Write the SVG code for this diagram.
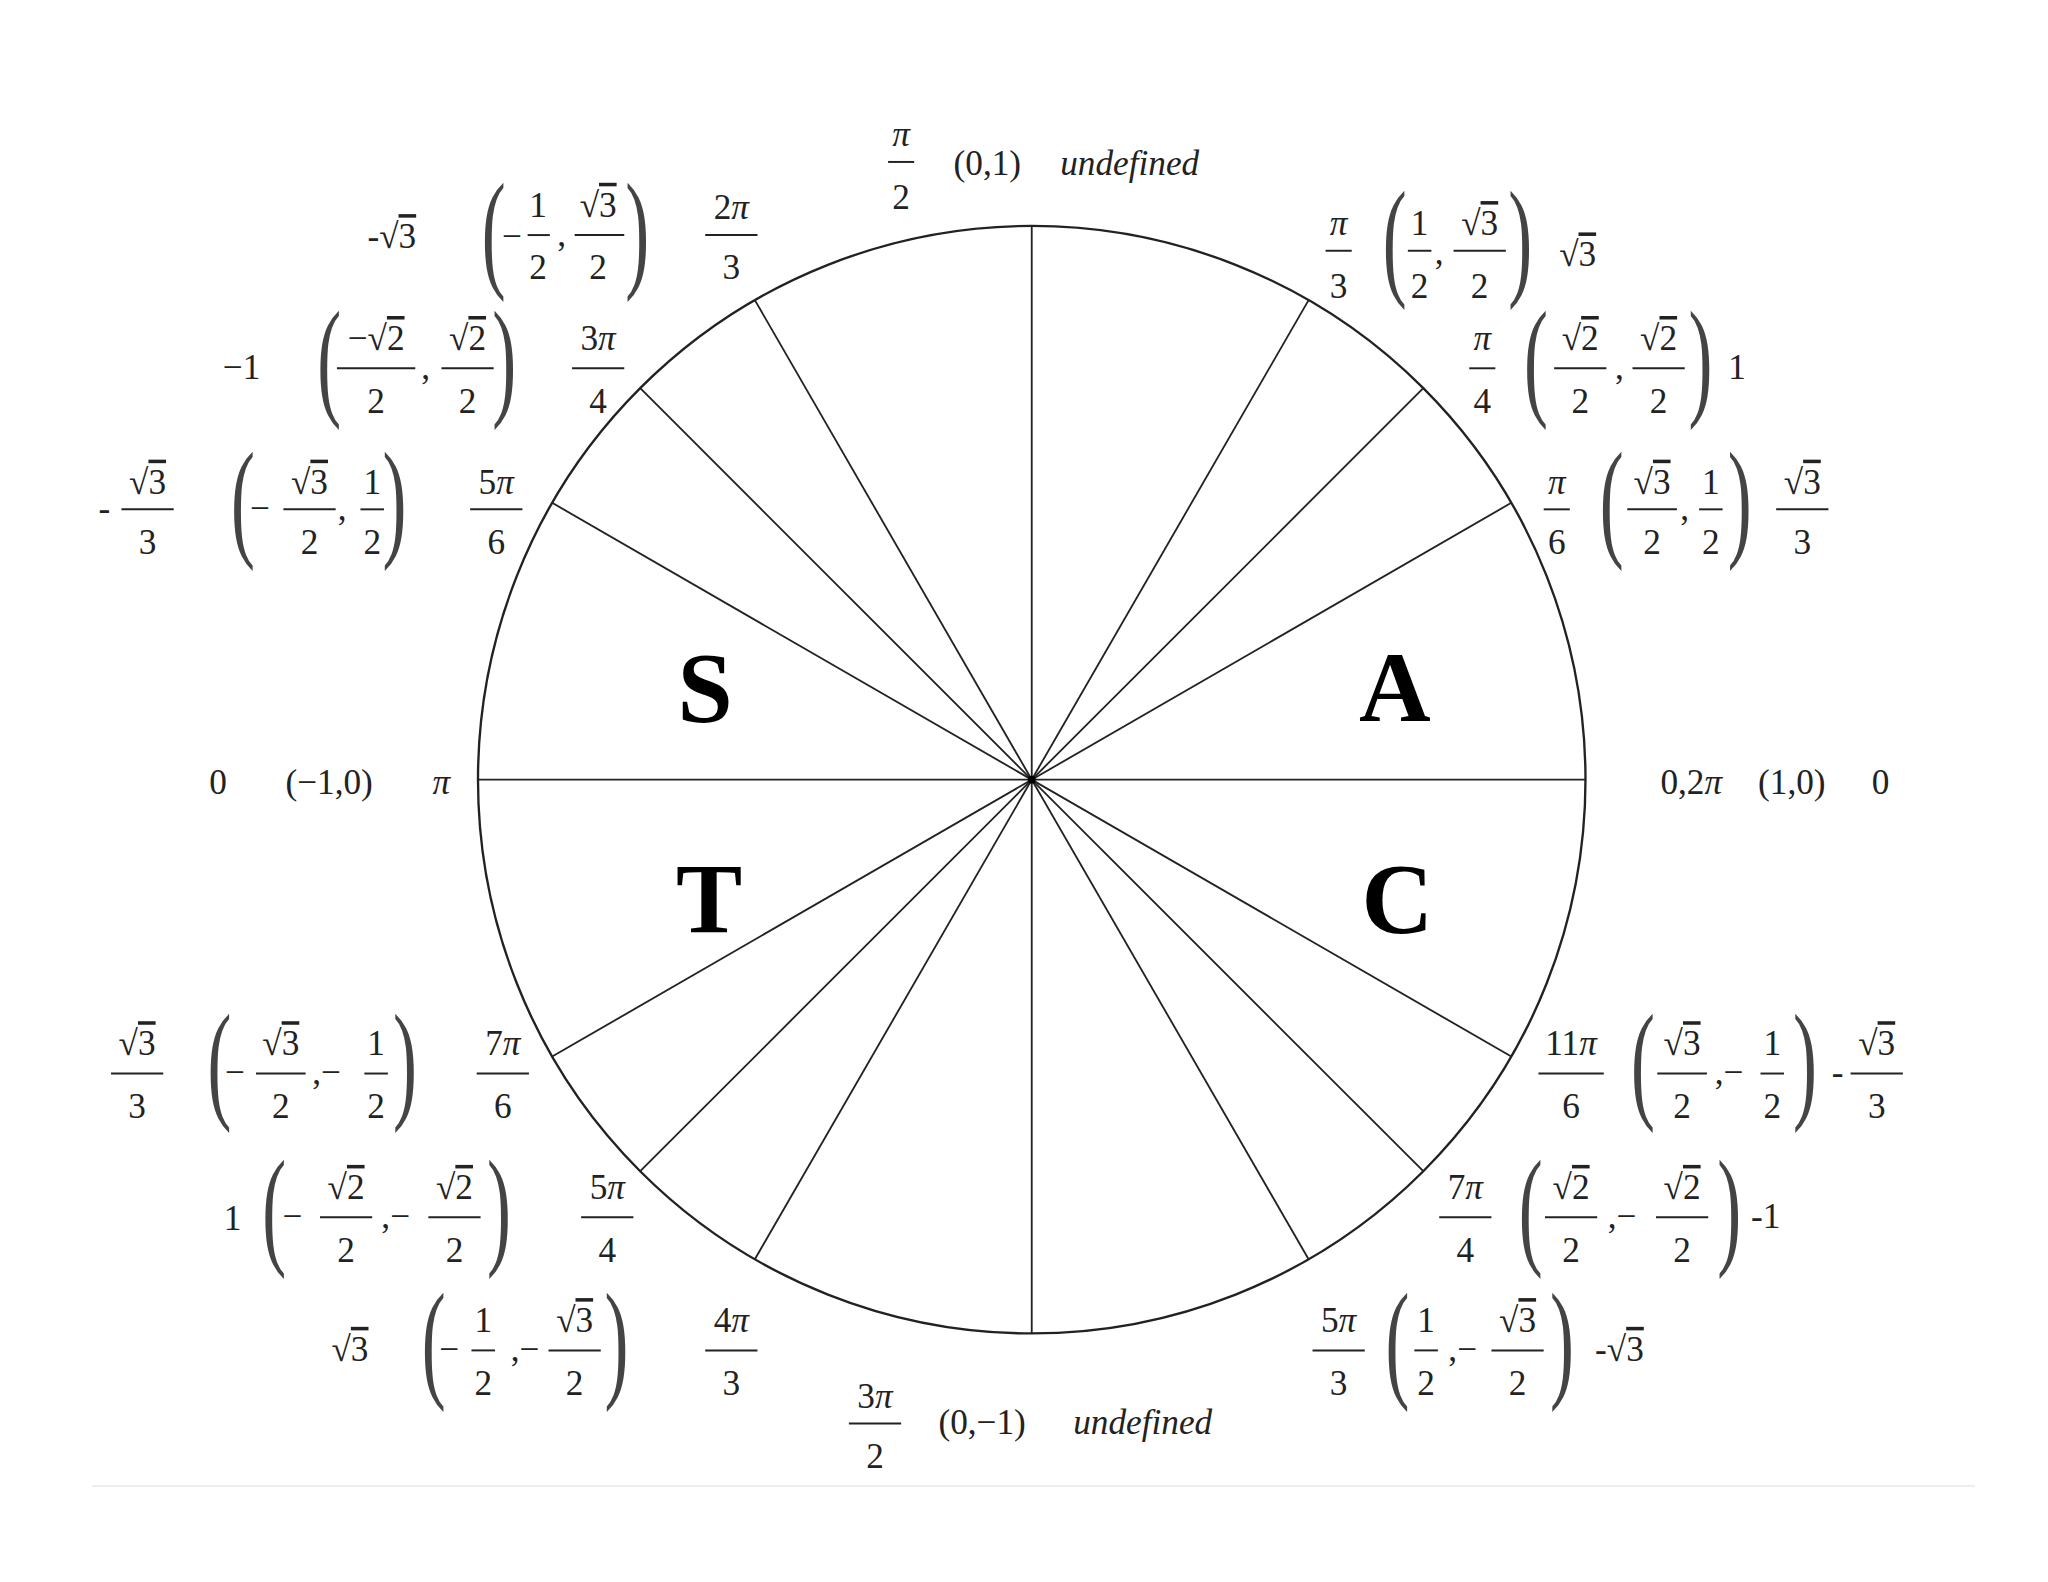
<svg xmlns="http://www.w3.org/2000/svg" width="2048" height="1582" viewBox="0 0 2048 1582">
<style>
text{font-family:"Liberation Serif",serif;font-size:27px;fill:#222;text-anchor:middle}
.p{font-size:100px;font-weight:normal;fill:#444}
.i{font-style:italic}
.ol{text-decoration:overline}
.b{font-size:76px;font-weight:bold;fill:#000}
line{stroke:#222;stroke-width:1.5}
.g line{stroke-width:1.4}
</style>
<rect width="2048" height="1582" fill="#fff"/>
<line x1="92" y1="1486" x2="1975" y2="1486" style="stroke:#eee;stroke-width:2"/>
<g transform="scale(1.306)">
<g id="circle"><circle cx="790" cy="597" r="424" fill="none" stroke="#222" stroke-width="1.8"/></g>
<g id="connectors" class="g">
<line x1="366" y1="597" x2="1214" y2="597"/>
<line x1="790" y1="173" x2="790" y2="1021"/>
<line x1="1157.2" y1="385" x2="422.8" y2="809"/>
<line x1="1089.8" y1="297.2" x2="490.2" y2="896.8"/>
<line x1="1002" y1="229.8" x2="578" y2="964.2"/>
<line x1="578" y1="229.8" x2="1002" y2="964.2"/>
<line x1="490.2" y1="297.2" x2="1089.8" y2="896.8"/>
<line x1="422.8" y1="385" x2="1157.2" y2="809"/>
<circle cx="790" cy="597" r="3" fill="#000"/>
</g>
<g id="quadrants">
<text class="b" x="540" y="552">S</text>
<text class="b" x="1068" y="552">A</text>
<text class="b" x="543" y="714">T</text>
<text class="b" x="1070" y="714">C</text>
</g>

<g id="n90">
<text class="i" x="690" y="112">π</text><line x1="680" y1="124" x2="700" y2="124"/><text x="690" y="160">2</text>
<text x="756" y="134">(0,1)</text>
<text class="i" x="865" y="134">undefined</text>
</g>

<g id="n120">
<text x="300" y="190">-√<tspan class="ol">3</tspan></text>
<text class="p" transform="translate(378,210) scale(0.55,1)">(</text>
<text x="392" y="190">−</text>
<text x="412" y="166">1</text><line x1="404" y1="180" x2="421" y2="180"/><text x="412" y="214">2</text>
<text x="430" y="188">,</text>
<text x="458" y="166">√<tspan class="ol">3</tspan></text><line x1="440" y1="180" x2="478" y2="180"/><text x="458" y="214">2</text>
<text class="p" transform="translate(488,210) scale(0.55,1)">)</text>
<text x="560" y="168">2<tspan class="i">π</tspan></text><line x1="540" y1="180" x2="580" y2="180"/><text x="560" y="214">3</text>
</g>

<g id="n135">
<text x="185" y="290">−1</text>
<text class="p" transform="translate(252,308) scale(0.55,1)">(</text>
<text x="288" y="268">−√<tspan class="ol">2</tspan></text><line x1="258" y1="282" x2="318" y2="282"/><text x="288" y="316">2</text>
<text x="326" y="290">,</text>
<text x="358" y="268">√<tspan class="ol">2</tspan></text><line x1="338" y1="282" x2="378" y2="282"/><text x="358" y="316">2</text>
<text class="p" transform="translate(386,308) scale(0.55,1)">)</text>
<text x="458" y="268">3<tspan class="i">π</tspan></text><line x1="438" y1="282" x2="478" y2="282"/><text x="458" y="316">4</text>
</g>

<g id="n150">
<text x="80" y="398">-</text>
<text x="113" y="378">√<tspan class="ol">3</tspan></text><line x1="93" y1="390" x2="133" y2="390"/><text x="113" y="424">3</text>
<text class="p" transform="translate(186,416) scale(0.55,1)">(</text>
<text x="199" y="398">−</text>
<text x="237" y="378">√<tspan class="ol">3</tspan></text><line x1="217" y1="390" x2="257" y2="390"/><text x="237" y="424">2</text>
<text x="262" y="398">,</text>
<text x="285" y="378">1</text><line x1="276" y1="390" x2="294" y2="390"/><text x="285" y="424">2</text>
<text class="p" transform="translate(302,416) scale(0.55,1)">)</text>
<text x="380" y="378">5<tspan class="i">π</tspan></text><line x1="360" y1="390" x2="400" y2="390"/><text x="380" y="424">6</text>
</g>

<g id="n180">
<text x="167" y="608">0</text>
<text x="252" y="608">(−1,0)</text>
<text class="i" x="338" y="608">π</text>
</g>

<g id="n210">
<text x="105" y="808">√<tspan class="ol">3</tspan></text><line x1="85" y1="822" x2="125" y2="822"/><text x="105" y="856">3</text>
<text class="p" transform="translate(168,846) scale(0.55,1)">(</text>
<text x="180" y="830">−</text>
<text x="215" y="808">√<tspan class="ol">3</tspan></text><line x1="196" y1="822" x2="234" y2="822"/><text x="215" y="856">2</text>
<text x="250" y="830">,−</text>
<text x="288" y="808">1</text><line x1="279" y1="822" x2="297" y2="822"/><text x="288" y="856">2</text>
<text class="p" transform="translate(310,846) scale(0.55,1)">)</text>
<text x="385" y="808">7<tspan class="i">π</tspan></text><line x1="365" y1="822" x2="405" y2="822"/><text x="385" y="856">6</text>
</g>

<g id="n225">
<text x="178" y="942">1</text>
<text class="p" transform="translate(210,958) scale(0.55,1)">(</text>
<text x="224" y="940">−</text>
<text x="265" y="918">√<tspan class="ol">2</tspan></text><line x1="245" y1="932" x2="285" y2="932"/><text x="265" y="966">2</text>
<text x="303" y="940">,−</text>
<text x="348" y="918">√<tspan class="ol">2</tspan></text><line x1="328" y1="932" x2="368" y2="932"/><text x="348" y="966">2</text>
<text class="p" transform="translate(382,958) scale(0.55,1)">)</text>
<text x="465" y="918">5<tspan class="i">π</tspan></text><line x1="445" y1="932" x2="485" y2="932"/><text x="465" y="966">4</text>
</g>

<g id="n240">
<text x="268" y="1042">√<tspan class="ol">3</tspan></text>
<text class="p" transform="translate(332,1060) scale(0.55,1)">(</text>
<text x="344" y="1042">−</text>
<text x="370" y="1020">1</text><line x1="361" y1="1034" x2="379" y2="1034"/><text x="370" y="1068">2</text>
<text x="402" y="1042">,−</text>
<text x="440" y="1020">√<tspan class="ol">3</tspan></text><line x1="420" y1="1034" x2="460" y2="1034"/><text x="440" y="1068">2</text>
<text class="p" transform="translate(472,1060) scale(0.55,1)">)</text>
<text x="560" y="1020">4<tspan class="i">π</tspan></text><line x1="540" y1="1034" x2="580" y2="1034"/><text x="560" y="1068">3</text>
</g>

<g id="n270">
<text x="670" y="1078">3<tspan class="i">π</tspan></text><line x1="650" y1="1090" x2="690" y2="1090"/><text x="670" y="1124">2</text>
<text x="752" y="1098">(0,−1)</text>
<text class="i" x="875" y="1098">undefined</text>
</g>

<g id="n60">
<text class="i" x="1025" y="180">π</text><line x1="1015" y1="192" x2="1035" y2="192"/><text x="1025" y="228">3</text>
<text class="p" transform="translate(1068,216) scale(0.55,1)">(</text>
<text x="1087" y="180">1</text><line x1="1078" y1="192" x2="1096" y2="192"/><text x="1087" y="228">2</text>
<text x="1102" y="202">,</text>
<text x="1133" y="180">√<tspan class="ol">3</tspan></text><line x1="1113" y1="192" x2="1153" y2="192"/><text x="1133" y="228">2</text>
<text class="p" transform="translate(1164,216) scale(0.55,1)">)</text>
<text x="1208" y="204">√<tspan class="ol">3</tspan></text>
</g>

<g id="n45">
<text class="i" x="1135" y="268">π</text><line x1="1125" y1="282" x2="1145" y2="282"/><text x="1135" y="316">4</text>
<text class="p" transform="translate(1176,308) scale(0.55,1)">(</text>
<text x="1210" y="268">√<tspan class="ol">2</tspan></text><line x1="1190" y1="282" x2="1230" y2="282"/><text x="1210" y="316">2</text>
<text x="1240" y="290">,</text>
<text x="1270" y="268">√<tspan class="ol">2</tspan></text><line x1="1250" y1="282" x2="1290" y2="282"/><text x="1270" y="316">2</text>
<text class="p" transform="translate(1302,308) scale(0.55,1)">)</text>
<text x="1330" y="290">1</text>
</g>

<g id="n30">
<text class="i" x="1192" y="378">π</text><line x1="1182" y1="390" x2="1202" y2="390"/><text x="1192" y="424">6</text>
<text class="p" transform="translate(1234,416) scale(0.55,1)">(</text>
<text x="1265" y="378">√<tspan class="ol">3</tspan></text><line x1="1246" y1="390" x2="1284" y2="390"/><text x="1265" y="424">2</text>
<text x="1290" y="398">,</text>
<text x="1310" y="378">1</text><line x1="1301" y1="390" x2="1319" y2="390"/><text x="1310" y="424">2</text>
<text class="p" transform="translate(1332,416) scale(0.55,1)">)</text>
<text x="1380" y="378">√<tspan class="ol">3</tspan></text><line x1="1360" y1="390" x2="1400" y2="390"/><text x="1380" y="424">3</text>
</g>

<g id="n0">
<text x="1295" y="608">0,2<tspan class="i">π</tspan></text>
<text x="1372" y="608">(1,0)</text>
<text x="1440" y="608">0</text>
</g>

<g id="n330">
<text x="1203" y="808">11<tspan class="i">π</tspan></text><line x1="1178" y1="822" x2="1228" y2="822"/><text x="1203" y="856">6</text>
<text class="p" transform="translate(1258,846) scale(0.55,1)">(</text>
<text x="1288" y="808">√<tspan class="ol">3</tspan></text><line x1="1269" y1="822" x2="1307" y2="822"/><text x="1288" y="856">2</text>
<text x="1324" y="830">,−</text>
<text x="1357" y="808">1</text><line x1="1348" y1="822" x2="1366" y2="822"/><text x="1357" y="856">2</text>
<text class="p" transform="translate(1382,846) scale(0.55,1)">)</text>
<text x="1407" y="830">-</text>
<text x="1437" y="808">√<tspan class="ol">3</tspan></text><line x1="1417" y1="822" x2="1457" y2="822"/><text x="1437" y="856">3</text>
</g>

<g id="n315">
<text x="1122" y="918">7<tspan class="i">π</tspan></text><line x1="1102" y1="932" x2="1142" y2="932"/><text x="1122" y="966">4</text>
<text class="p" transform="translate(1172,958) scale(0.55,1)">(</text>
<text x="1203" y="918">√<tspan class="ol">2</tspan></text><line x1="1183" y1="932" x2="1223" y2="932"/><text x="1203" y="966">2</text>
<text x="1242" y="940">,−</text>
<text x="1288" y="918">√<tspan class="ol">2</tspan></text><line x1="1268" y1="932" x2="1308" y2="932"/><text x="1288" y="966">2</text>
<text class="p" transform="translate(1324,958) scale(0.55,1)">)</text>
<text x="1352" y="940">-1</text>
</g>

<g id="n300">
<text x="1025" y="1020">5<tspan class="i">π</tspan></text><line x1="1005" y1="1034" x2="1045" y2="1034"/><text x="1025" y="1068">3</text>
<text class="p" transform="translate(1070,1060) scale(0.55,1)">(</text>
<text x="1092" y="1020">1</text><line x1="1083" y1="1034" x2="1101" y2="1034"/><text x="1092" y="1068">2</text>
<text x="1120" y="1042">,−</text>
<text x="1162" y="1020">√<tspan class="ol">3</tspan></text><line x1="1142" y1="1034" x2="1182" y2="1034"/><text x="1162" y="1068">2</text>
<text class="p" transform="translate(1196,1060) scale(0.55,1)">)</text>
<text x="1240" y="1042">-√<tspan class="ol">3</tspan></text>
</g>
</g>
</svg>
